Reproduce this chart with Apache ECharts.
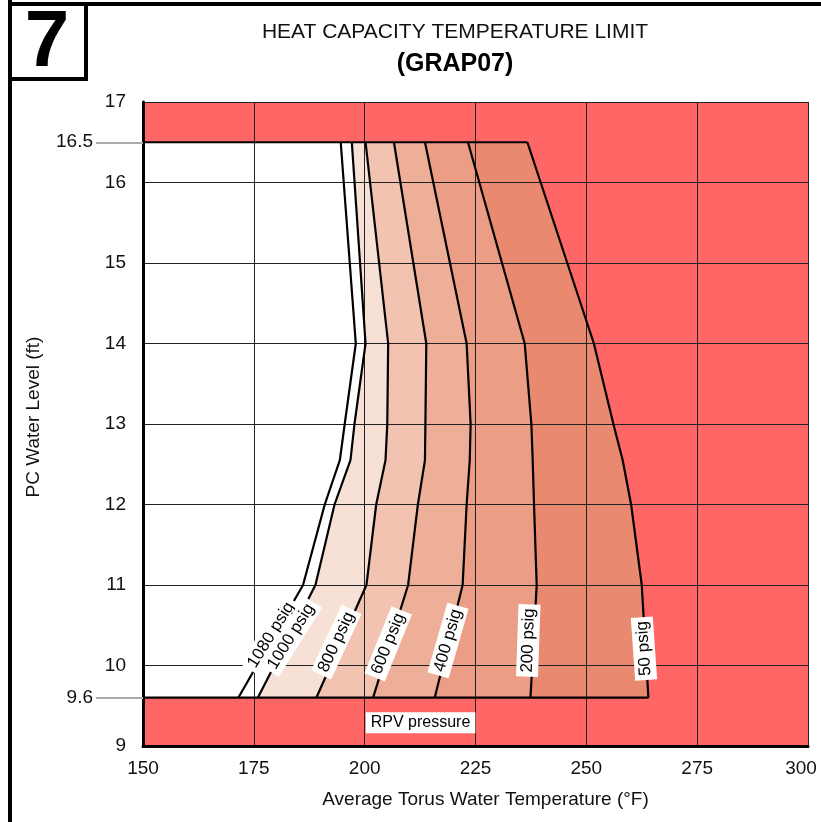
<!DOCTYPE html>
<html>
<head>
<meta charset="utf-8">
<script src="https://cdn.jsdelivr.net/npm/echarts@6/dist/echarts.min.js"></script>
<style>
  html, body { margin: 0; padding: 0; background: #fff; }
  #chart { width: 821px; height: 822px; }
</style>
</head>
<body>
<div id="chart"></div>
<script>
// PC water levels (ft) at which every RPV pressure curve is tabulated
const levels = [16.5, 14, 13, 12.55, 12, 11, 9.6];

// Average torus water temperature (°F) of each pressure curve at those levels
const temp1080 = [194.6, 198.0, 195.5, 194.4, 191.0, 186.1, 171.5];
const temp1000 = [197.1, 200.2, 197.7, 196.8, 193.2, 188.9, 175.9];
const temp800  = [200.2, 205.3, 205.1, 204.7, 202.6, 200.4, 189.1];
const temp600  = [206.6, 213.9, 213.7, 213.6, 212.0, 209.8, 201.9];
const temp400  = [213.6, 223.0, 223.9, 223.7, 223.0, 222.1, 215.8];
const temp200  = [223.3, 236.1, 237.6, 237.9, 238.2, 238.8, 237.4];
const temp50   = [236.7, 251.7, 256.1, 258.2, 260.1, 262.5, 264.0];

// Curve captions and where they sit (temperature, level)
const curveNames  = ['1080 psig', '1000 psig', '800 psig', '600 psig', '400 psig', '200 psig', '50 psig'];
const labelTemps  = [178.9, 183.4, 193.6, 205.3, 218.8, 236.9, 263.0];
const labelLevels = [10.38, 10.36, 10.29, 10.27, 10.31, 10.31, 10.21];

// Caption for the family of curves
const legendText  = 'RPV pressure';
const legendTemp  = 212.6;
const legendLevel = 9.29;

// Upper and lower PC water level limits
const levelLimits = [16.5, 9.6];

// Axis ranges and tick steps
const tempRange  = [150, 300];
const tempStep   = 25;
const levelRange = [9, 17];
const levelStep  = 1;

// ---- styling (kept apart from the values above) ----
const FONT = '"Liberation Sans", Arial, sans-serif';
const curveTemps  = [temp1080, temp1000, temp800, temp600, temp400, temp200, temp50];
const labelAngles = [58, 58, 65, 68, 74, 88, 94];
const bandColors  = ['#ffffff', '#f7e0d5', '#f1c3b0', '#eeaf99', '#eb9d86', '#e88970'];
const limitRed    = '#ff6666';

const curvePoints = temps => temps.map((t, i) => [t, levels[i]]);

// Shaded bands: white up to the 1000 psig curve, then one band per pair of curves
const bands = [];
{
  const first = curvePoints(temp1000);
  bands.push([[tempRange[0], levels[0]], ...first, [tempRange[0], levels[levels.length - 1]]]);
  const edges = [temp1000, temp800, temp600, temp400, temp200, temp50];
  for (let i = 0; i < edges.length - 1; i++) {
    const left = curvePoints(edges[i]);
    const right = curvePoints(edges[i + 1]).reverse();
    bands.push(left.concat(right));
  }
}

const series = [];

bands.forEach((pts, i) => {
  series.push({
    type: 'custom',
    z: 1,
    silent: true,
    data: [[tempRange[0], levelRange[0]]],
    renderItem: (params, api) => ({
      type: 'polygon',
      shape: { points: pts.map(p => api.coord(p)) },
      style: { fill: bandColors[i], stroke: bandColors[i], lineWidth: 0.5 }
    })
  });
});

// Pressure curves
curveTemps.forEach(temps => {
  series.push({
    type: 'line',
    z: 4,
    silent: true,
    symbol: 'none',
    data: curvePoints(temps),
    lineStyle: { color: '#000', width: 2.2 }
  });
});

// Level limit boundaries across the permitted region
series.push({
  type: 'line', z: 4, silent: true, symbol: 'none',
  data: [[tempRange[0], levelLimits[0]], [temp50[0], levelLimits[0]]],
  lineStyle: { color: '#000', width: 2.2 }
});
series.push({
  type: 'line', z: 4, silent: true, symbol: 'none',
  data: [[tempRange[0], levelLimits[1]], [temp50[temp50.length - 1], levelLimits[1]]],
  lineStyle: { color: '#000', width: 2.2 }
});

// Curve captions in white boxes, turned along their curve
series.push({
  type: 'custom',
  z: 6,
  silent: true,
  clip: false,
  data: labelTemps.map((t, i) => [t, labelLevels[i], i]),
  renderItem: (params, api) => {
    const i = api.value(2);
    const p = api.coord([api.value(0), api.value(1)]);
    return {
      type: 'text',
      x: p[0], y: p[1],
      rotation: labelAngles[i] * Math.PI / 180,
      style: {
        text: curveNames[i],
        font: '17px ' + FONT,
        fill: '#000',
        align: 'center',
        verticalAlign: 'middle',
        backgroundColor: '#fff',
        padding: [3, 4, 2, 4]
      }
    };
  }
});

series.push({
  type: 'custom',
  z: 6,
  silent: true,
  clip: false,
  data: [[legendTemp, legendLevel]],
  renderItem: (params, api) => {
    const p = api.coord([api.value(0), api.value(1)]);
    return {
      type: 'text',
      x: p[0], y: p[1],
      style: {
        text: legendText,
        font: '16px ' + FONT,
        fill: '#000',
        align: 'center',
        verticalAlign: 'middle',
        backgroundColor: '#fff',
        padding: [3, 5, 2, 5]
      }
    };
  }
});

const chart = echarts.init(document.getElementById('chart'), null, { renderer: 'canvas' });

chart.setOption({
  animation: false,
  backgroundColor: '#fff',
  grid: {
    left: 143, right: 13, top: 102, bottom: 76,
    outerBoundsMode: 'none',
    containLabel: false,
    show: true, backgroundColor: limitRed, borderWidth: 0
  },
  graphic: [
    // page frame
    { type: 'line', shape: { x1: 10, y1: 0, x2: 10, y2: 822 }, style: { stroke: '#000', lineWidth: 4 } },
    { type: 'line', shape: { x1: 8, y1: 4, x2: 821, y2: 4 }, style: { stroke: '#000', lineWidth: 4 } },
    { type: 'rect', shape: { x: 10, y: 4, width: 76, height: 75 }, style: { fill: '#fff', stroke: '#000', lineWidth: 4 } },
    { type: 'text', x: 47, y: 44, style: { text: '7', font: 'bold 80px ' + FONT, fill: '#000', align: 'center', verticalAlign: 'middle' } },
    // heading
    { type: 'text', x: 455, y: 32, style: { text: 'HEAT CAPACITY TEMPERATURE LIMIT', font: '21px ' + FONT, fill: '#111', align: 'center', verticalAlign: 'middle' } },
    { type: 'text', x: 455, y: 64, style: { text: '(GRAP07)', font: 'bold 25px ' + FONT, fill: '#000', align: 'center', verticalAlign: 'middle' } }
  ],
  xAxis: {
    type: 'value',
    z: 3,
    min: tempRange[0], max: tempRange[1], interval: tempStep,
    name: 'Average Torus Water Temperature (°F)',
    nameLocation: 'middle',
    nameGap: 44,
    nameTextStyle: { fontSize: 19, color: '#111', fontFamily: FONT, padding: [0, 0, 0, 20] },
    axisLine: { lineStyle: { color: '#000', width: 3 } },
    axisTick: { show: false },
    axisLabel: {
      fontSize: 19, color: '#111', fontFamily: FONT, margin: 13,
      showMinLabel: true, showMaxLabel: true,
      // the last label is nudged inward so it stays on the page
      formatter: v => v === tempRange[1] ? '{last|' + v + '}' : String(v),
      rich: { last: { fontSize: 19, color: '#111', fontFamily: FONT, padding: [0, 14, 0, 0] } }
    },
    splitLine: { show: true, lineStyle: { color: '#222', width: 1 } }
  },
  yAxis: [
    {
      type: 'value',
      z: 3,
      min: levelRange[0], max: levelRange[1], interval: levelStep,
      name: 'PC Water Level (ft)',
      nameLocation: 'middle',
      nameGap: 100,
      nameTextStyle: { fontSize: 19, color: '#111', fontFamily: FONT, padding: [0, 0, 0, 14] },
      axisLine: { show: true, lineStyle: { color: '#000', width: 3 } },
      axisTick: { show: false },
      axisLabel: { fontSize: 19, color: '#111', fontFamily: FONT, margin: 17, showMinLabel: true, showMaxLabel: true },
      splitLine: { show: true, lineStyle: { color: '#222', width: 1 } }
    },
    {
      type: 'value',
      z: 3,
      position: 'left',
      min: levelRange[0], max: levelRange[1],
      axisLine: { show: false },
      splitLine: { show: false },
      axisTick: { show: true, customValues: levelLimits, length: 47, lineStyle: { color: '#aaa', width: 2 } },
      axisLabel: { customValues: levelLimits, fontSize: 19, color: '#111', fontFamily: FONT, margin: 50 }
    }
  ],
  series: series
});
</script>
</body>
</html>
